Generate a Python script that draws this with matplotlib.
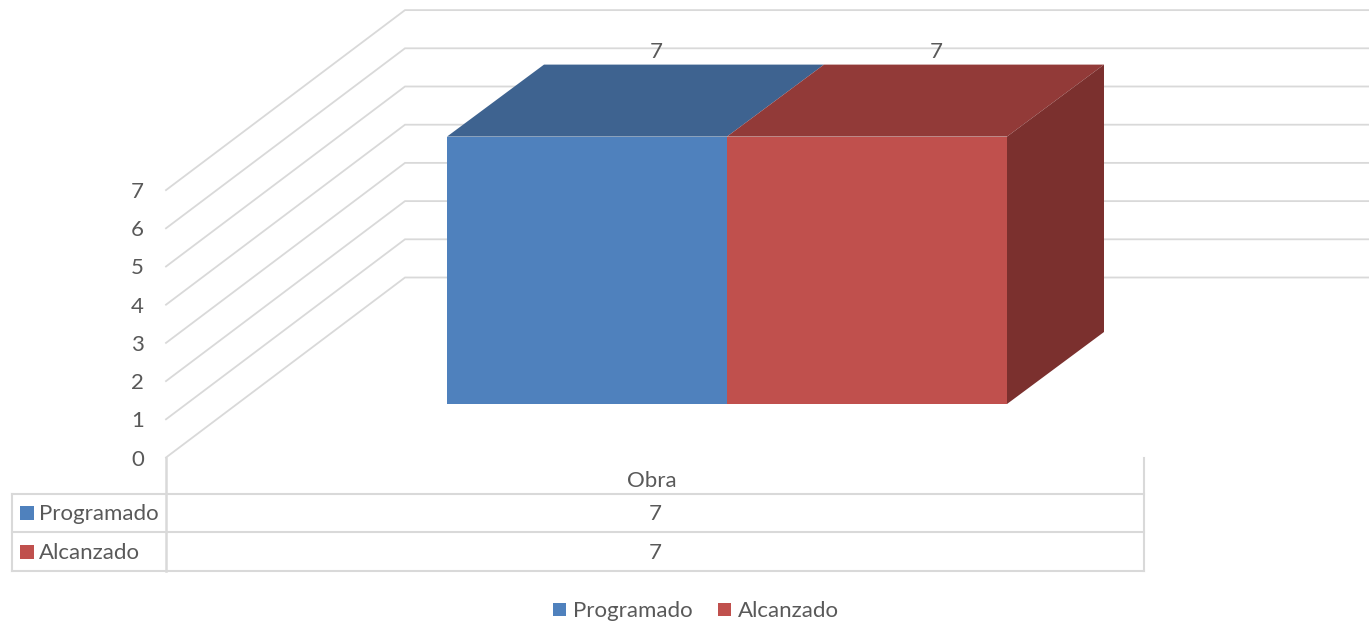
import matplotlib
matplotlib.use('Agg')
import matplotlib.pyplot as plt
from matplotlib.patches import Polygon, Rectangle

plt.rcParams['font.family'] = ['Lato', 'DejaVu Sans']

categoria = 'Obra'
series = ['Programado', 'Alcanzado']
valores = [7, 7]
ticks = [0, 1, 2, 3, 4, 5, 6, 7]

colores = ['#4f81bd', '#c0504d']
techo = ['#3e6390', '#923a38']
lado = '#7b302e'
gris = '#d9d9d9'
texto = '#595959'

# pixel layout of the fake 3d box
W, H = 1369, 622
x0, y0 = 166, 457.5
unidad = 38.2
back_dx, back_dy = 239, -180
bar_left, bar_w = 447, 280
bar_base = 404
bar_dx, bar_dy = 97, -72
tabla_x = [12, 166, 1144]
tabla_y = [494, 532, 571]
fs = 16

fig = plt.figure(figsize=(W / 100, H / 100), dpi=100)
ax = fig.add_axes([0, 0, 1, 1])
ax.set_xlim(0, W)
ax.set_ylim(H, 0)
ax.axis('off')

# gridlines, wall then back
for t in ticks:
    y = y0 - t * unidad
    ax.plot([x0, x0 + back_dx, W], [y, y + back_dy, y + back_dy], color=gris, lw=1.3, zorder=1, solid_joinstyle='miter')
    ax.text(144, y + 2, str(t), ha='right', va='center', fontsize=fs, color=texto)

# bars
for i, v in enumerate(valores):
    xl = bar_left + i * bar_w
    xr = xl + bar_w
    top = bar_base - v * unidad
    ax.add_patch(Rectangle((xl, top), bar_w, v * unidad, fc=colores[i], ec='none', zorder=3))
    ax.add_patch(Polygon([(xl, top), (xr, top), (xr + bar_dx, top + bar_dy), (xl + bar_dx, top + bar_dy)], fc=techo[i], ec='none', zorder=3))
    if i == len(valores) - 1:
        ax.add_patch(Polygon([(xr, top), (xr + bar_dx, top + bar_dy), (xr + bar_dx, bar_base + bar_dy), (xr, bar_base)], fc=lado, ec='none', zorder=3))
    ax.text(xl + bar_w / 2 + 69, top + bar_dy - 13, str(v), ha='center', va='center', fontsize=fs, color=texto, zorder=4)

# data table
ax.plot([x0, x0], [y0, tabla_y[2]], color=gris, lw=1.8, zorder=1)
ax.plot([tabla_x[2], tabla_x[2]], [y0, tabla_y[2]], color=gris, lw=1.5, zorder=1)
ax.plot([tabla_x[0], tabla_x[0]], [tabla_y[0], tabla_y[2]], color=gris, lw=1.5, zorder=1)
for y in tabla_y:
    ax.plot([tabla_x[0], tabla_x[2]], [y, y], color=gris, lw=1.5, zorder=1)
ax.text(652, 481, categoria, ha='center', va='center', fontsize=fs, color=texto)
for i, s in enumerate(series):
    yc = (tabla_y[i] + tabla_y[i + 1]) / 2
    ax.add_patch(Rectangle((20, yc - 7), 14, 14, fc=colores[i], ec='none', zorder=3))
    ax.text(39, yc + 1.5, s, ha='left', va='center', fontsize=fs, color=texto)
    ax.text(655, yc + 1.5, str(valores[i]), ha='center', va='center', fontsize=fs, color=texto)

# legend
for s, c, xs in zip(series, colores, [553, 718]):
    ax.add_patch(Rectangle((xs, 603), 13, 13, fc=c, ec='none', zorder=3))
    ax.text(xs + 20, 611, s, ha='left', va='center', fontsize=fs, color=texto)

fig.savefig('out.png', dpi=100)
